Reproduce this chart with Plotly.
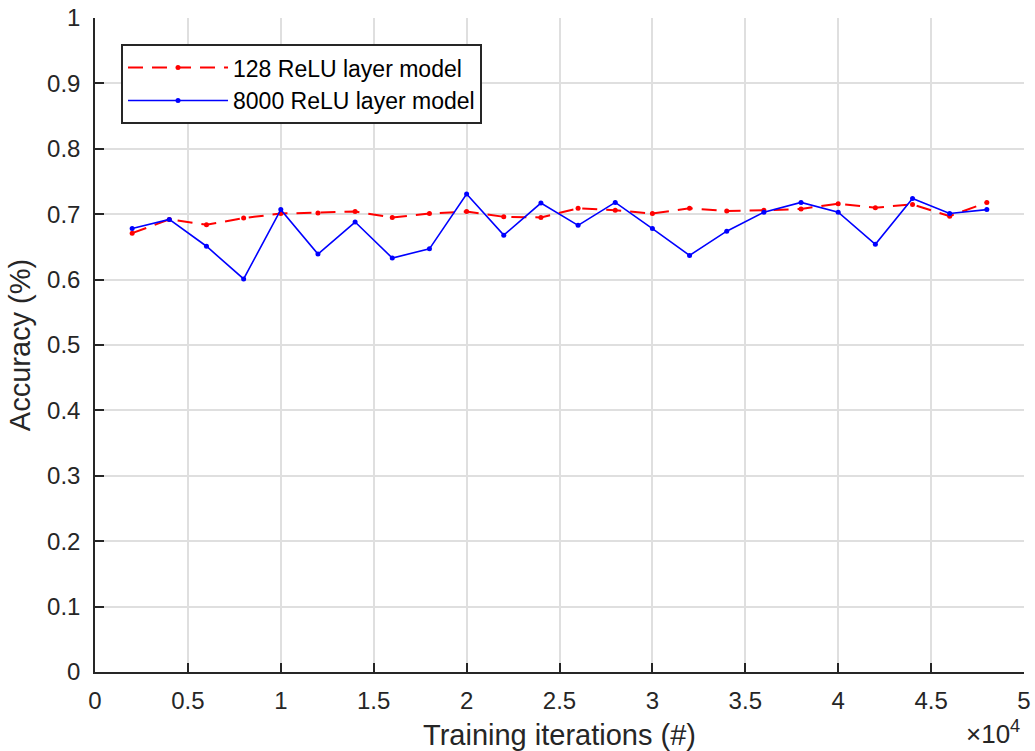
import plotly.graph_objects as go

iterations = [2000, 4000, 6000, 8000, 10000, 12000, 14000, 16000, 18000, 20000,
              22000, 24000, 26000, 28000, 30000, 32000, 34000, 36000, 38000, 40000,
              42000, 44000, 46000, 48000]
acc_128 = [0.671, 0.692, 0.684, 0.694, 0.701, 0.702, 0.704, 0.695, 0.701, 0.704,
           0.696, 0.695, 0.709, 0.706, 0.701, 0.709, 0.705, 0.706, 0.708, 0.716,
           0.710, 0.715, 0.697, 0.718]
acc_8000 = [0.678, 0.692, 0.651, 0.601, 0.707, 0.639, 0.688, 0.633, 0.647, 0.731,
            0.668, 0.717, 0.683, 0.718, 0.678, 0.637, 0.674, 0.703, 0.718, 0.703,
            0.654, 0.724, 0.701, 0.707]
x_tickvals = [0, 5000, 10000, 15000, 20000, 25000, 30000, 35000, 40000, 45000, 50000]
x_ticktext = ["0", "0.5", "1", "1.5", "2", "2.5", "3", "3.5", "4", "4.5", "5"]
y_tickvals = [0, 0.1, 0.2, 0.3, 0.4, 0.5, 0.6, 0.7, 0.8, 0.9, 1]
y_ticktext = ["0", "0.1", "0.2", "0.3", "0.4", "0.5", "0.6", "0.7", "0.8", "0.9", "1"]

FONT = "Liberation Sans, Arial, Helvetica, sans-serif"
AXC = "#262626"

fig = go.Figure()
fig.add_trace(go.Scatter(
    x=iterations, y=acc_128, mode="lines+markers", name="128 ReLU layer model",
    line=dict(color="#ff0000", width=2, dash="15px,9px"),
    marker=dict(color="#ff0000", size=5)))
fig.add_trace(go.Scatter(
    x=iterations, y=acc_8000, mode="lines+markers", name="8000 ReLU layer model",
    line=dict(color="#0000ff", width=1.6),
    marker=dict(color="#0000ff", size=5)))

fig.update_layout(
    width=1035, height=751,
    margin=dict(l=95, r=11, t=18, b=79, autoexpand=False),
    paper_bgcolor="white", plot_bgcolor="white",
    font=dict(family=FONT, color=AXC, size=23),
    showlegend=True,
    legend=dict(x=0.028, y=0.96, xanchor="left", yanchor="top",
                bgcolor="white", bordercolor=AXC, borderwidth=2,
                font=dict(size=23, color="#000000"),
                tracegroupgap=0, itemwidth=100),
    xaxis=dict(range=[0, 50000], tickvals=x_tickvals, ticktext=x_ticktext,
               automargin=False,
               showgrid=True, gridcolor="#dfdfdf", gridwidth=2,
               showline=True, linecolor=AXC, linewidth=1.5,
               ticks="inside", ticklen=9, tickcolor=AXC, tickwidth=1.5,
               zeroline=False, ticklabelstandoff=6,
               tickfont=dict(size=24, color=AXC),
               title=dict(text="Training iterations (#)", font=dict(size=29, color=AXC), standoff=12)),
    yaxis=dict(range=[0, 1], tickvals=y_tickvals, ticktext=y_ticktext,
               automargin=False,
               showgrid=True, gridcolor="#dfdfdf", gridwidth=2,
               showline=True, linecolor=AXC, linewidth=1.5,
               ticks="inside", ticklen=9, tickcolor=AXC, tickwidth=1.5,
               zeroline=False, ticklabelstandoff=8,
               tickfont=dict(size=24, color=AXC),
               title=dict(text="Accuracy (%)", font=dict(size=29, color=AXC), standoff=8)),
)

fig.add_annotation(xref="paper", yref="paper", x=1.0, y=-0.093,
                   xanchor="right", yanchor="middle", showarrow=False, xshift=-2,
                   text="×10<sup>4</sup>", font=dict(size=26, color=AXC))

fig.write_html("out.html")
